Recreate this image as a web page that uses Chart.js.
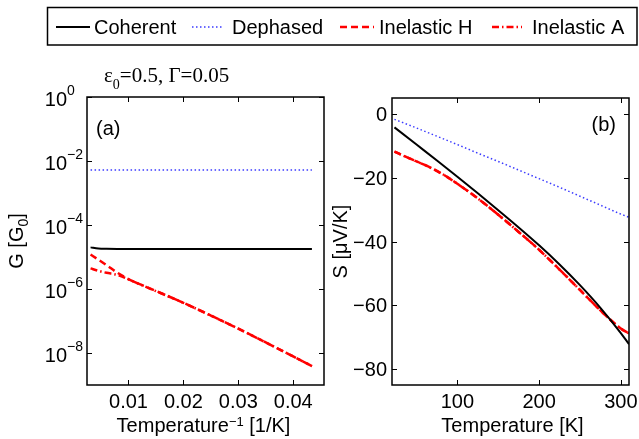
<!DOCTYPE html>
<html lang="en">
<head>
<meta charset="UTF-8">
<title>Conductance and thermopower</title>
<script src="https://cdn.jsdelivr.net/npm/chart.js"></script>
<style>
  html, body { margin: 0; padding: 0; background: #fff; }
  #wrap { position: relative; width: 639px; height: 439px; overflow: hidden; }
  canvas { position: absolute; top: 0; }
  #chartA { left: 0; }
  #chartB { left: 320px; }
  #overlay { left: 0; pointer-events: none; }
</style>
</head>
<body>
<div id="wrap">
  <canvas id="chartA" width="335" height="439"></canvas>
  <canvas id="chartB" width="319" height="439"></canvas>
  <canvas id="overlay" width="639" height="439"></canvas>
</div>
<script>
const seriesNames = ['Coherent', 'Dephased', 'Inelastic H', 'Inelastic A'];

// panel (a): conductance against inverse temperature
const invTemp   = [0.0031, 0.0045, 0.006, 0.008, 0.01, 0.0125, 0.015, 0.02, 0.025, 0.03, 0.035, 0.04, 0.0434];
const gCoherent = [2.0e-5, 1.85e-5, 1.8e-5, 1.78e-5, 1.78e-5, 1.78e-5, 1.78e-5, 1.78e-5, 1.78e-5, 1.78e-5, 1.78e-5, 1.78e-5, 1.78e-5];
const gDephased = [5.2e-3, 5.2e-3, 5.2e-3, 5.2e-3, 5.2e-3, 5.2e-3, 5.2e-3, 5.2e-3, 5.2e-3, 5.2e-3, 5.2e-3, 5.2e-3, 5.2e-3];
const gInelH    = [1.2e-5, 8.3e-6, 5.6e-6, 3.2e-6, 2.04e-6, 1.32e-6, 8.7e-7, 3.7e-7, 1.48e-7, 5.75e-8, 2.14e-8, 7.8e-9, 3.9e-9];
const gInelA    = [4.4e-6, 3.7e-6, 3.2e-6, 2.75e-6, 2.0e-6, 1.3e-6, 8.6e-7, 3.7e-7, 1.48e-7, 5.75e-8, 2.14e-8, 7.8e-9, 3.9e-9];

// panel (b): thermopower against temperature
const tempB     = [23, 50, 75, 100, 125, 150, 175, 200, 225, 250, 275, 300, 310];
const sCoherent = [-4.2, -9.6, -14.6, -19.7, -24.9, -30.2, -35.6, -41.2, -47.2, -53.7, -60.8, -68.7, -72.2];
const sDephased = [-1.7, -4.4, -7.0, -9.6, -12.3, -14.9, -17.6, -20.3, -23.0, -25.8, -28.6, -31.4, -32.4];
const tempRed   = [23, 40, 60, 80, 100, 125, 150, 175, 200, 225, 250, 275, 300, 310];
const sInelH    = [-11.8, -13.8, -16.0, -18.6, -21.9, -26.5, -31.6, -37.0, -42.6, -48.8, -55.2, -61.6, -67.3, -68.8];
const sInelA    = [-11.8, -13.8, -16.0, -18.6, -21.9, -26.5, -31.6, -37.0, -42.6, -48.8, -55.2, -61.6, -67.3, -68.8];

// ticks
const gTicks = [1, 1e-2, 1e-4, 1e-6, 1e-8];
const gTickExp = ['0', '\u22122', '\u22124', '\u22126', '\u22128'];
const invTicks = [0.01, 0.02, 0.03, 0.04];
const invTickLabels = ['0.01', '0.02', '0.03', '0.04'];
const tTicks = [100, 200, 300];
const tTickLabels = ['100', '200', '300'];
const sTicks = [0, -20, -40, -60, -80];
const sTickLabels = ['0', '\u221220', '\u221240', '\u221260', '\u221280'];

const FONT = '"Liberation Sans", Arial, Helvetica, sans-serif';
const SERIF = '"Liberation Serif", "Times New Roman", serif';
const INK = '#000';

const styles = [
  { color: '#000000', width: 2, dash: [] },
  { color: '#3a3aff', width: 1.5, dash: [1.5, 2.5] },
  { color: '#ff0000', width: 2.5, dash: [7, 4] },
  { color: '#ff0000', width: 2.5, dash: [7, 3, 1.5, 3] }
];

function pts(xs, ys) {
  return xs.map((x, i) => ({ x: x, y: ys[i] }));
}

function makeSets(list) {
  return list.map((data, i) => ({
    label: seriesNames[i],
    data: data,
    borderColor: styles[i].color,
    borderWidth: styles[i].width,
    borderDash: styles[i].dash,
    pointRadius: 0,
    fill: false,
    cubicInterpolationMode: 'monotone'
  }));
}

function baseOptions(xMin, xMax, yType, yMin, yMax, yWidth, pad) {
  return {
    responsive: false,
    animation: false,
    events: [],
    layout: { padding: pad },
    plugins: { legend: { display: false }, tooltip: { enabled: false } },
    scales: {
      x: {
        type: 'linear', min: xMin, max: xMax,
        ticks: { display: false }, grid: { display: false }, border: { display: false },
        afterFit: s => { s.height = 54; }
      },
      y: {
        type: yType, min: yMin, max: yMax,
        ticks: { display: false }, grid: { display: false }, border: { display: false },
        afterFit: s => { s.width = yWidth; }
      }
    }
  };
}

// text made of pieces: [text, size, baseline shift]
function drawRich(ctx, parts, cx, base, family) {
  family = family || FONT;
  let total = 0;
  parts.forEach(p => { ctx.font = p[1] + 'px ' + family; total += ctx.measureText(p[0]).width; });
  let x = cx - total / 2;
  ctx.textAlign = 'left';
  parts.forEach(p => {
    ctx.font = p[1] + 'px ' + family;
    ctx.fillText(p[0], x, base + p[2]);
    x += ctx.measureText(p[0]).width;
  });
}

function drawBox(ctx, a, xp, yp) {
  ctx.save();
  ctx.strokeStyle = INK;
  ctx.lineWidth = 1;
  ctx.beginPath();
  xp.forEach(p => {
    p = Math.round(p) + 0.5;
    ctx.moveTo(p, a.bottom); ctx.lineTo(p, a.bottom - 5);
    ctx.moveTo(p, a.top); ctx.lineTo(p, a.top + 5);
  });
  yp.forEach(p => {
    p = Math.round(p) + 0.5;
    ctx.moveTo(a.left, p); ctx.lineTo(a.left + 5, p);
    ctx.moveTo(a.right, p); ctx.lineTo(a.right - 5, p);
  });
  ctx.stroke();
  ctx.lineWidth = 1.5;
  ctx.strokeRect(a.left, a.top, a.right - a.left, a.bottom - a.top);
  ctx.restore();
}

const frameA = {
  id: 'frameA',
  afterDraw(chart) {
    const ctx = chart.ctx, a = chart.chartArea, xs = chart.scales.x, ys = chart.scales.y;
    drawBox(ctx, a, invTicks.map(v => xs.getPixelForValue(v)), gTicks.map(v => ys.getPixelForValue(v)));
    ctx.save();
    ctx.fillStyle = INK;
    ctx.textBaseline = 'alphabetic';
    ctx.font = '20px ' + FONT;
    ctx.textAlign = 'center';
    invTicks.forEach((v, i) => ctx.fillText(invTickLabels[i], xs.getPixelForValue(v), a.bottom + 23));
    gTicks.forEach((v, i) => {
      const y = ys.getPixelForValue(v);
      ctx.font = '20px ' + FONT; ctx.textAlign = 'right';
      ctx.fillText('10', a.left - 20, y + 9);
      ctx.font = '14px ' + FONT; ctx.textAlign = 'left';
      ctx.fillText(gTickExp[i], a.left - 20, y - 2);
    });
    drawRich(ctx, [['Temperature', 20, 0], ['\u22121', 13, -6], [' [1/K]', 20, 0]], (a.left + a.right) / 2 - 2, 432);
    ctx.save();
    ctx.translate(23, (a.top + a.bottom) / 2);
    ctx.rotate(-Math.PI / 2);
    drawRich(ctx, [['G [G', 20, 0], ['0', 14, 5], [']', 20, 0]], 0, 0);
    ctx.restore();
    ctx.font = '20px ' + FONT; ctx.textAlign = 'left';
    ctx.fillText('(a)', a.left + 9, a.top + 38);
    ctx.restore();
  }
};

const frameB = {
  id: 'frameB',
  afterDraw(chart) {
    const ctx = chart.ctx, a = chart.chartArea, xs = chart.scales.x, ys = chart.scales.y;
    drawBox(ctx, a, tTicks.map(v => xs.getPixelForValue(v)), sTicks.map(v => ys.getPixelForValue(v)));
    ctx.save();
    ctx.fillStyle = INK;
    ctx.textBaseline = 'alphabetic';
    ctx.font = '20px ' + FONT;
    ctx.textAlign = 'center';
    tTicks.forEach((v, i) => ctx.fillText(tTickLabels[i], xs.getPixelForValue(v), a.bottom + 23));
    ctx.textAlign = 'right';
    sTicks.forEach((v, i) => ctx.fillText(sTickLabels[i], a.left - 5, ys.getPixelForValue(v) + 7));
    drawRich(ctx, [['Temperature [K]', 20, 0]], (a.left + a.right) / 2 + 2, 432);
    ctx.save();
    ctx.translate(27, (a.top + a.bottom) / 2);
    ctx.rotate(-Math.PI / 2);
    drawRich(ctx, [['S [\u03bcV/K]', 20, 0]], 0, 0);
    ctx.restore();
    ctx.font = '20px ' + FONT; ctx.textAlign = 'right';
    ctx.fillText('(b)', a.right - 13, a.top + 33);
    ctx.restore();
  }
};

const chartA = new Chart(document.getElementById('chartA'), {
  type: 'line',
  data: { datasets: makeSets([pts(invTemp, gCoherent), pts(invTemp, gDephased), pts(invTemp, gInelH), pts(invTemp, gInelA)]) },
  options: baseOptions(0.00245, 0.0456, 'logarithmic', 1e-9, 1, 87, { top: 97, right: 11, left: 0, bottom: 0 }),
  plugins: [frameA]
});

const chartB = new Chart(document.getElementById('chartB'), {
  type: 'line',
  data: { datasets: makeSets([pts(tempB, sCoherent), pts(tempB, sDephased), pts(tempRed, sInelH), pts(tempRed, sInelA)]) },
  options: baseOptions(20, 310, 'linear', -85, 5, 72, { top: 98, right: 10, left: 0, bottom: 0 }),
  plugins: [frameB]
});

// legend box and parameter line on top
(function drawOverlay() {
  const ctx = document.getElementById('overlay').getContext('2d');
  ctx.fillStyle = '#fff';
  ctx.fillRect(47.5, 7.5, 589.5, 37.5);
  ctx.strokeStyle = INK;
  ctx.lineWidth = 1.5;
  ctx.strokeRect(47.5, 7.5, 589.5, 37.5);
  const samples = [[56, 90], [192, 223], [340, 374], [492, 522]];
  const textX = [94, 232, 379, 532];
  chartA.data.datasets.forEach((ds, i) => {
    ctx.save();
    ctx.strokeStyle = ds.borderColor;
    ctx.lineWidth = ds.borderWidth;
    ctx.setLineDash(ds.borderDash);
    ctx.beginPath();
    ctx.moveTo(samples[i][0], 27);
    ctx.lineTo(samples[i][1], 27);
    ctx.stroke();
    ctx.restore();
    ctx.fillStyle = INK;
    ctx.font = '20px ' + FONT;
    ctx.textAlign = 'left';
    ctx.textBaseline = 'alphabetic';
    ctx.fillText(ds.label, textX[i], 34);
  });
  // epsilon_0 = 0.5, Gamma = 0.05
  ctx.fillStyle = INK;
  ctx.textBaseline = 'alphabetic';
  const parts = [['\u03b5', 21, 0], ['0', 14, 7], ['=0.5, \u0393=0.05', 21, 0]];
  let x = 104;
  parts.forEach(p => {
    ctx.font = p[1] + 'px ' + SERIF;
    ctx.fillText(p[0], x, 82 + p[2]);
    x += ctx.measureText(p[0]).width;
  });
})();
</script>
</body>
</html>
